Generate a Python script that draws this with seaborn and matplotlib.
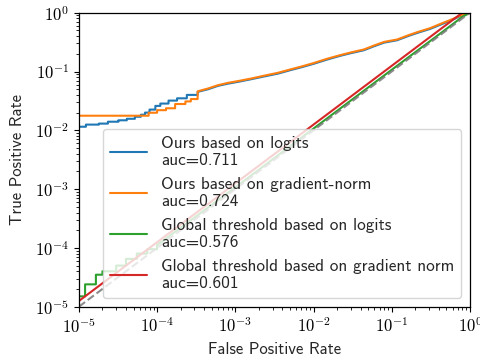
import matplotlib
matplotlib.use("Agg")
import matplotlib.pyplot as plt
import matplotlib.ticker as mticker
import numpy as np
import pandas as pd
import seaborn as sns

# ROC operating points (false positive rate, true positive rate).
# The first n_steps points of each curve are discrete thresholds (staircase),
# the rest are dense enough to be drawn as a continuous curve.
fpr_ours_logits = [1e-5, 1.23e-5, 1.8e-5, 2.35e-5, 3.2e-5, 4.1e-5, 5.2e-5, 6.2e-5,
                   7.0e-5, 8.0e-5, 9.5e-5, 1.1e-4, 1.4e-4, 1.8e-4, 2.4e-4, 3.3e-4,
                   4.5e-4, 6.0e-4, 8.0e-4, 1.1e-3, 1.6e-3, 2.3e-3, 3.5e-3, 5e-3,
                   7e-3, 1e-2, 1.5e-2, 2.2e-2, 3e-2, 4.4e-2, 6e-2, 8e-2, 0.117,
                   0.17, 0.22, 0.31, 0.45, 0.6, 0.73, 0.85, 1.0]
tpr_ours_logits = [0.0115, 0.0125, 0.013, 0.014, 0.0148, 0.0157, 0.017, 0.0184,
                   0.020, 0.0225, 0.026, 0.0285, 0.032, 0.035, 0.040, 0.045,
                   0.050, 0.057, 0.062, 0.067, 0.074, 0.082, 0.092, 0.105,
                   0.118, 0.135, 0.16, 0.185, 0.205, 0.23, 0.27, 0.31, 0.34,
                   0.41, 0.46, 0.53, 0.65, 0.76, 0.86, 0.93, 1.0]
steps_ours_logits = 15

fpr_ours_grad = [1e-5, 7.8e-5, 1.0e-4, 1.3e-4, 1.7e-4, 2.3e-4, 2.7e-4, 3.3e-4,
                 4.5e-4, 6.0e-4, 8.0e-4, 1.1e-3, 1.6e-3, 2.3e-3, 3.5e-3, 5e-3,
                 7e-3, 1e-2, 1.5e-2, 2.2e-2, 3e-2, 4.4e-2, 6e-2, 8e-2, 0.117,
                 0.17, 0.22, 0.31, 0.45, 0.6, 0.73, 0.85, 1.0]
tpr_ours_grad = [0.0177, 0.0199, 0.022, 0.0237, 0.028, 0.031, 0.034, 0.046,
                 0.0515, 0.0585, 0.064, 0.069, 0.076, 0.0845, 0.095, 0.108,
                 0.1215, 0.139, 0.165, 0.19, 0.211, 0.237, 0.278, 0.319, 0.35,
                 0.422, 0.474, 0.546, 0.67, 0.78, 0.88, 0.95, 1.0]
steps_ours_grad = 7

fpr_global_logits = [1e-5, 1.2e-5, 1.65e-5, 2.0e-5, 3.0e-5, 4.0e-5, 5.5e-5, 7.5e-5,
                     1.0e-4, 1e-3, 1e-2, 0.1, 0.5, 0.8, 1.0]
tpr_global_logits = [1.5e-5, 2.4e-5, 3.5e-5, 4.0e-5, 5.0e-5, 6.5e-5, 8.0e-5, 9.5e-5,
                     1.12e-4, 1.07e-3, 1.07e-2, 0.107, 0.53, 0.85, 1.0]
steps_global_logits = 8

fpr_global_grad = [1e-5, 1e-4, 1e-3, 1e-2, 0.1, 0.8, 1.0]
tpr_global_grad = [1.25e-5, 1.25e-4, 1.25e-3, 1.25e-2, 0.125, 1.0, 1.0]
steps_global_grad = 0

labels = ["Ours based on logits\nauc=0.711",
          "Ours based on gradient-norm\nauc=0.724",
          "Global threshold based on logits\nauc=0.576",
          "Global threshold based on gradient norm\nauc=0.601"]
colors = ["#1f77b4", "#ff7f0e", "#2ca02c", "#d62728"]


def roc_vertices(fpr, tpr, n_steps):
    """Expand the first n_steps thresholds into horizontal/vertical ROC segments."""
    xs, ys = [], []
    for i in range(len(fpr)):
        if 0 < i <= n_steps:
            xs.append(fpr[i])
            ys.append(tpr[i - 1])
        xs.append(fpr[i])
        ys.append(tpr[i])
    return xs, ys


sns.set_style("ticks")
plt.rcParams.update({
    "font.family": ["cmss10", "DejaVu Sans"],
    "mathtext.fontset": "cm",
    "mathtext.default": "rm",
    "font.size": 12,
    "axes.edgecolor": "black",
    "axes.linewidth": 0.9,
    "xtick.color": "black",
    "ytick.color": "black",
    "xtick.direction": "out",
    "ytick.direction": "out",
    "xtick.major.size": 3.5,
    "ytick.major.size": 3.5,
    "xtick.minor.size": 2,
    "ytick.minor.size": 2,
    "xtick.minor.visible": True,
    "ytick.minor.visible": True,
})

fig = plt.figure(figsize=(4.81, 3.58), dpi=100)
ax = fig.add_axes([0.164, 0.1433, 0.813, 0.8212])

curves = [(fpr_ours_logits, tpr_ours_logits, steps_ours_logits),
          (fpr_ours_grad, tpr_ours_grad, steps_ours_grad),
          (fpr_global_logits, tpr_global_logits, steps_global_logits),
          (fpr_global_grad, tpr_global_grad, steps_global_grad)]
for (fpr, tpr, n_steps), lab, col in zip(curves, labels, colors):
    xs, ys = roc_vertices(fpr, tpr, n_steps)
    df = pd.DataFrame({"fpr": xs, "tpr": ys})
    sns.lineplot(data=df, x="fpr", y="tpr", ax=ax, color=col, label=lab,
                 linewidth=1.5, sort=False, estimator=None)

chance = pd.DataFrame({"fpr": [1e-5, 1.0], "tpr": [1e-5, 1.0]})
sns.lineplot(data=chance, x="fpr", y="tpr", ax=ax, color="gray",
             linestyle="--", linewidth=1.5, alpha=0.9, estimator=None)

ax.set_xscale("log")
ax.set_yscale("log")
ax.set_xlim(1e-5, 1)
ax.set_ylim(1e-5, 1)

decade_fmt = mticker.FuncFormatter(lambda v, pos: r"$10^{%d}$" % round(np.log10(v)))
ax.xaxis.set_major_formatter(decade_fmt)
ax.yaxis.set_major_formatter(decade_fmt)
ax.xaxis.set_major_locator(mticker.LogLocator(base=10, numticks=10))
ax.yaxis.set_major_locator(mticker.LogLocator(base=10, numticks=10))
ax.xaxis.set_minor_locator(mticker.LogLocator(base=10, subs=np.arange(2, 10), numticks=10))
ax.yaxis.set_minor_locator(mticker.LogLocator(base=10, subs=np.arange(2, 10), numticks=10))
ax.xaxis.set_minor_formatter(mticker.NullFormatter())
ax.yaxis.set_minor_formatter(mticker.NullFormatter())

ax.set_xlabel("False Positive Rate", fontsize=12)
ax.set_ylabel("True Positive Rate", fontsize=12, labelpad=7)
ax.tick_params(axis="both", which="major", labelsize=12)
for s in ax.spines.values():
    s.set_visible(True)

ax.legend(loc="lower right", fontsize=12.4, handlelength=2.2)

fig.savefig("out.png", dpi=100)
